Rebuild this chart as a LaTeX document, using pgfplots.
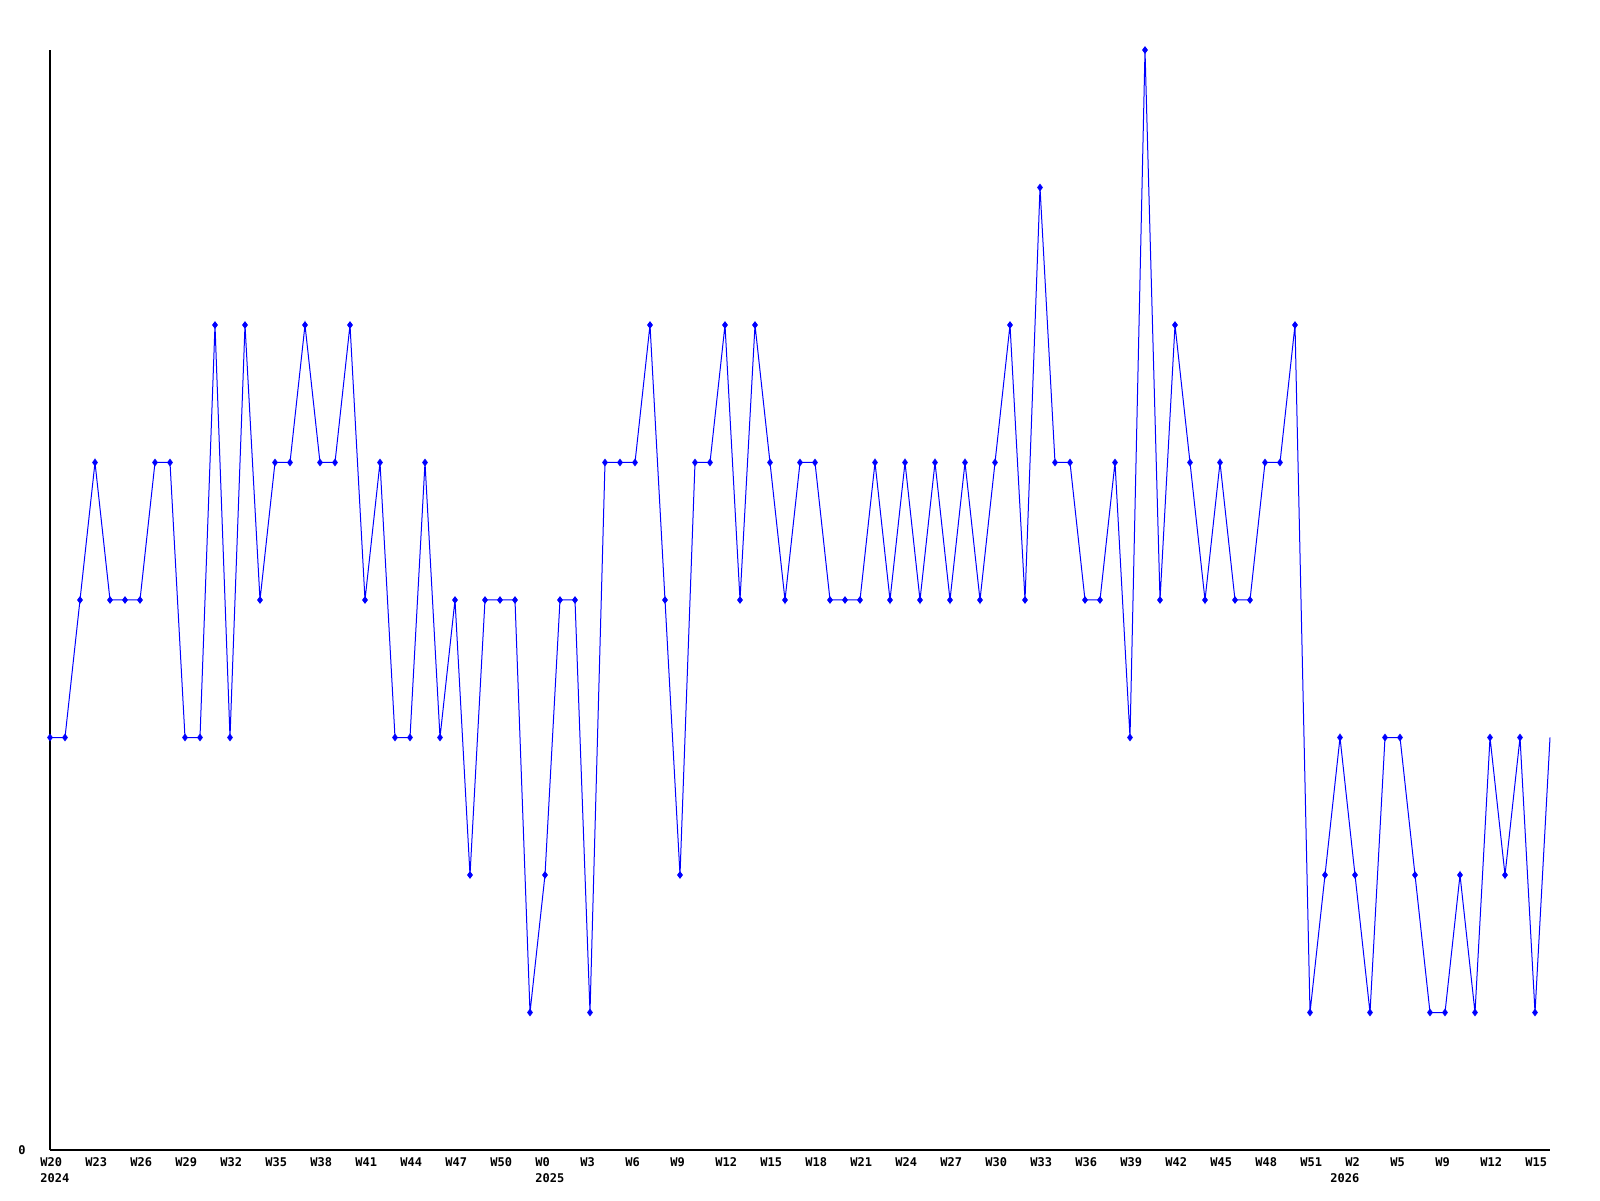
\documentclass[border=0pt]{standalone}
\usepackage{fontspec}
\setmonofont{DejaVu Sans Mono}
\usepackage{pgfplots}
\usepackage{pgfplotstable}
\pgfplotsset{compat=1.18}
\definecolor{lineblue}{RGB}{0,0,255}

% weekly counts, index 0 = 2024 W20
\pgfplotstableread{
idx val
0 3
1 3
2 4
3 5
4 4
5 4
6 4
7 5
8 5
9 3
10 3
11 6
12 3
13 6
14 4
15 5
16 5
17 6
18 5
19 5
20 6
21 4
22 5
23 3
24 3
25 5
26 3
27 4
28 2
29 4
30 4
31 4
32 1
33 2
34 4
35 4
36 1
37 5
38 5
39 5
40 6
41 4
42 2
43 5
44 5
45 6
46 4
47 6
48 5
49 4
50 5
51 5
52 4
53 4
54 4
55 5
56 4
57 5
58 4
59 5
60 4
61 5
62 4
63 5
64 6
65 4
66 7
67 5
68 5
69 4
70 4
71 5
72 3
73 8
74 4
75 6
76 5
77 4
78 5
79 4
80 4
81 5
82 5
83 6
84 1
85 2
86 3
87 2
88 1
89 3
90 3
91 2
92 1
93 1
94 2
95 1
96 3
97 2
98 3
99 1
100 3
}\weekly

\begin{document}
\begin{tikzpicture}
\useasboundingbox (-25pt,-25pt) rectangle (775pt,575pt);
\begin{axis}[
    at={(0,0)}, anchor=south west,
    scale only axis,
    width=750pt, height=550pt,
    xmin=0, xmax=100,
    ymin=0, ymax=8,
    axis x line*=bottom,
    axis y line*=left,
    axis line style={black, line width=0.7pt},
    major tick length=0pt,
    /pgf/number format/assume math mode=true,
    ytick={0},
    yticklabel style={anchor=east, inner sep=0pt, xshift=-12pt},
    xtick={0,3,...,99},
    xticklabels={W20,W23,W26,W29,W32,W35,W38,W41,W44,W47,W50,W0,W3,W6,W9,W12,W15,W18,W21,W24,W27,W30,W33,W36,W39,W42,W45,W48,W51,W2,W5,W9,W12,W15},
    xticklabel style={anchor=north west, inner sep=0pt, xshift=-5pt, yshift=-3.5pt},
    extra x ticks={0,33,86},
    extra x tick labels={2024,2025,2026},
    extra x tick style={xticklabel style={yshift=-8pt}},
    tick label style={font=\fontsize{6}{7}\selectfont\ttfamily\bfseries, text=black},
    clip=false,
]
\addplot[lineblue, line width=0.5pt, no marks] table[x=idx, y=val] {\weekly};
\addplot[lineblue, only marks, mark=diamond*, mark size=1.6pt,
    skip coords between index={100}{101}] table[x=idx, y=val] {\weekly};
\end{axis}
\end{tikzpicture}
\end{document}
